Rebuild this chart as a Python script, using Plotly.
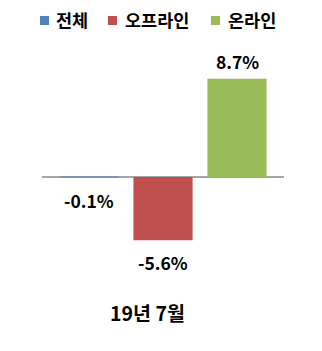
import plotly.graph_objects as go

category = ["19년 7월"]
series_names = ["전체", "오프라인", "온라인"]
series_values = [-0.1, -5.6, 8.7]
series_colors = ["#4F81BD", "#C0504D", "#9BBB59"]

FONT = "Noto Sans CJK KR"

# plot area in pixels
L, R, T, B = 42, 284, 45, 298
W, H = 322, 351


def px_x(px):
    return (px - L) / (R - L)


def px_y(py):
    return (B - py) / (B - T)


fig = go.Figure()
for name, val, col in zip(series_names, series_values, series_colors):
    fig.add_trace(go.Bar(
        x=category, y=[val], name=name,
        marker=dict(color=col, line=dict(width=0),
                    opacity=0.45 if abs(val) < 0.5 else 1.0),
        showlegend=False,
    ))

offsets = [-74, 0, 74]
for off, val in zip(offsets, series_values):
    fig.add_annotation(
        x=category[0], y=val, xref="x", yref="y",
        text=f"<b>{val:.1f}%</b>", showarrow=False,
        xshift=off, yshift=17 if val >= 0 else -22,
        yanchor="middle", font=dict(family=FONT, size=17.5, color="#000000"),
    )

# category label
fig.add_annotation(
    x=px_x(147.5), y=px_y(312), xref="paper", yref="paper",
    text=f"<b>{category[0]}</b>", showarrow=False, xanchor="center", yanchor="middle",
    font=dict(family=FONT, size=19.5, color="#000000"),
)

# manual legend (squares + labels)
legend_sq = [(40, 49), (108, 117), (211, 220)]
legend_tx = [54, 123, 226]
for (x0, x1), tx, name, col in zip(legend_sq, legend_tx, series_names, series_colors):
    fig.add_shape(type="rect", xref="paper", yref="paper",
                  x0=px_x(x0), x1=px_x(x1), y0=px_y(25), y1=px_y(16),
                  fillcolor=col, line=dict(width=0))
    fig.add_annotation(
        x=px_x(tx), y=px_y(20), xref="paper", yref="paper",
        text=f"<b>{name}</b>", showarrow=False, xanchor="left", yanchor="middle",
        font=dict(family=FONT, size=17.5, color="#000000"),
    )

fig.update_layout(
    width=W, height=H,
    margin=dict(l=L, r=W - R, t=T, b=H - B),
    paper_bgcolor="white", plot_bgcolor="white",
    barmode="group", bargap=0.083, bargroupgap=0.2,
    font=dict(family=FONT, size=16, color="#000000"),
    showlegend=False,
    xaxis=dict(showgrid=False, showline=False, ticks="", showticklabels=False),
    yaxis=dict(range=[-10.71, 11.68], showgrid=False, showticklabels=False,
               zeroline=True, zerolinecolor="#A6A6A6", zerolinewidth=2, ticks=""),
)

fig.write_html("out.html")
